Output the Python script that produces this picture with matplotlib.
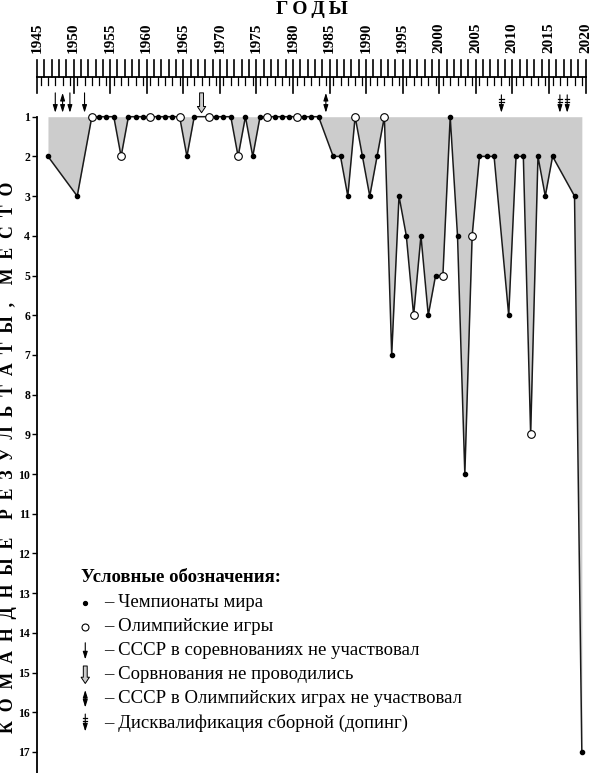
import matplotlib

matplotlib.use("Agg")
import matplotlib.pyplot as plt
import numpy as np

plt.rcParams["font.family"] = ["Liberation Serif", "DejaVu Serif"]

# team results: year, place, event type (W = world championship, O = Olympic games)
years = [1946, 1950, 1952, 1953, 1954, 1955, 1956, 1957, 1958, 1959, 1960,
         1961, 1962, 1963, 1964, 1965, 1966, 1968, 1969, 1970, 1971, 1972,
         1973, 1974, 1975, 1976, 1977, 1978, 1979, 1980, 1981, 1982, 1983,
         1985, 1986, 1987, 1988, 1989, 1990, 1991, 1992, 1993, 1994, 1995,
         1996, 1997, 1998, 1999, 2000, 2001, 2002, 2003, 2004, 2005, 2006,
         2007, 2009, 2010, 2011, 2012, 2013, 2014, 2015, 2018, 2019]
places = [2, 3, 1, 1, 1, 1, 2, 1, 1, 1, 1,
          1, 1, 1, 1, 2, 1, 1, 1, 1, 1, 2,
          1, 2, 1, 1, 1, 1, 1, 1, 1, 1, 1,
          2, 2, 3, 1, 2, 3, 2, 1, 7, 3, 4,
          6, 4, 6, 5, 5, 1, 4, 10, 4, 2, 2,
          2, 6, 2, 2, 9, 2, 3, 2, 3, 17]
olympic_years = [1952, 1956, 1960, 1964, 1968, 1972, 1976, 1980, 1988,
                 1992, 1996, 2000, 2004, 2012]

# marked years without a result
absent_years = [1947, 1949, 1951]        # USSR did not take part
not_held_years = [1967]                  # competition not held
olympic_boycott_years = [1948, 1984]     # USSR skipped the Olympics
doping_years = [2008, 2016, 2017]        # team disqualified

legend_title = "Условные обозначения:"
legend_labels = [
    "– Чемпионаты мира",
    "– Олимпийские игры",
    "– СССР в соревнованиях не участвовал",
    "– Сорвнования не проводились",
    "– СССР в Олимпийских играх не участвовал",
    "– Дисквалификация сборной (допинг)",
]

FILL = "#cccccc"
BOTH_HEADS = "<|-|>,head_length=0.45,head_width=0.14"

x = np.array(years) + 0.5
y = np.array(places)
is_olympic = np.isin(years, olympic_years)

fig = plt.figure(figsize=(5.91, 7.73), dpi=100)
ax = fig.add_axes([37 / 591, 0, 548.5 / 591, 718 / 773])
ax.set_xlim(1945, 2020)
ax.set_ylim(17.53, -0.554)

ax.fill_between(x, 1, y, color=FILL, linewidth=0, zorder=1)
ax.plot(x, y, color="#1a1a1a", linewidth=1.1, zorder=2)
ax.plot(x[~is_olympic], y[~is_olympic], "o", color="black", markersize=3, zorder=3)
ax.plot(x[is_olympic], y[is_olympic], "o", markerfacecolor="white",
        markeredgecolor="black", markeredgewidth=0.8, markersize=5.5, zorder=3)

# top year ruler
ax.plot([1945, 2020], [0, 0], color="black", linewidth=1.3, clip_on=False)
for yr in range(1945, 2021):
    ax.plot([yr, yr], [0, -0.43], color="black", linewidth=1.2, clip_on=False)
    if yr % 5 == 0:
        ax.plot([yr, yr], [0, 0.4], color="black", linewidth=1.2, clip_on=False)
        ax.text(yr, -0.6, str(yr), rotation=90, ha="center", va="bottom",
                fontsize=11, fontweight="bold", clip_on=False)
for yr in range(1945, 2020):
    ax.plot([yr + 0.5, yr + 0.5], [0, 0.2], color="black", linewidth=0.9,
            clip_on=False)


# event markers above the results
def down_arrow(xpos, top, tip, style="-|>,head_length=0.45,head_width=0.14"):
    ax.annotate("", xy=(xpos, tip), xytext=(xpos, top),
                arrowprops=dict(arrowstyle=style, color="black", lw=0.8,
                                shrinkA=0, shrinkB=0))


def hollow_arrow(xpos, top, tip):
    ax.annotate("", xy=(xpos, tip), xytext=(xpos, top),
                arrowprops=dict(arrowstyle="simple,head_length=0.45,head_width=0.6,tail_width=0.28",
                                fc=FILL, ec="black", lw=0.7, shrinkA=0, shrinkB=0))


def doping_arrow(xpos, top, tip):
    down_arrow(xpos, top, tip)
    span = tip - top
    for frac in (0.22, 0.42):
        ax.plot([xpos - 0.3, xpos + 0.3], [top + span * frac] * 2,
                color="black", linewidth=0.9)


for yr in absent_years:
    down_arrow(yr + 0.5, 0.4, 0.9)
for yr in not_held_years:
    hollow_arrow(yr + 0.5, 0.4, 0.9)
for yr in olympic_boycott_years:
    down_arrow(yr + 0.5, 0.4, 0.9, BOTH_HEADS)
for yr in doping_years:
    doping_arrow(yr + 0.5, 0.45, 0.9)

# left axis
ax.spines[["top", "right", "bottom"]].set_visible(False)
ax.spines["left"].set_bounds(1, 17.53)
ax.spines["left"].set_linewidth(1.3)
ax.set_xticks([])
ax.set_yticks(range(1, 18))
ax.tick_params(axis="y", length=3.5, width=1.0, pad=1.5, labelsize=8.5)
for label in ax.get_yticklabels():
    label.set_fontweight("bold")

# legend
ax.text(1951.0, 12.61, legend_title, fontsize=13.5, fontweight="bold",
        va="center", ha="left")
sym_x = 1951.6
text_x = 1954.2
for i, label in enumerate(legend_labels):
    row = 13.24 + i * 0.605
    ax.text(text_x, row, label, fontsize=13.5, va="center", ha="left")
    if i == 0:
        ax.plot(sym_x, row, "o", color="black", markersize=2.8)
    elif i == 1:
        ax.plot(sym_x, row, "o", markerfacecolor="white", markeredgecolor="black",
                markeredgewidth=0.8, markersize=5)
    elif i == 2:
        down_arrow(sym_x, row - 0.2, row + 0.22)
    elif i == 3:
        hollow_arrow(sym_x, row - 0.22, row + 0.22)
    elif i == 4:
        down_arrow(sym_x, row - 0.22, row + 0.22, BOTH_HEADS)
    else:
        doping_arrow(sym_x, row - 0.22, row + 0.22)

fig.text(312 / 591, 1 - 9 / 773, "Г\u2009О\u2009Д\u2009Ы", ha="center", va="center",
         fontsize=14, fontweight="bold")
ylabel = "\u2002".join("КОМАНДНЫЕ") + "\u2002\u2002" + "\u2002".join("РЕЗУЛЬТАТЫ,") \
    + "\u2002\u2002" + "\u2002".join("МЕСТО")
fig.text(9 / 591, 1 - 457 / 773, ylabel, rotation=90, ha="center", va="center",
         fontsize=12.8, fontweight="bold")

fig.savefig("out.png", dpi=100)
